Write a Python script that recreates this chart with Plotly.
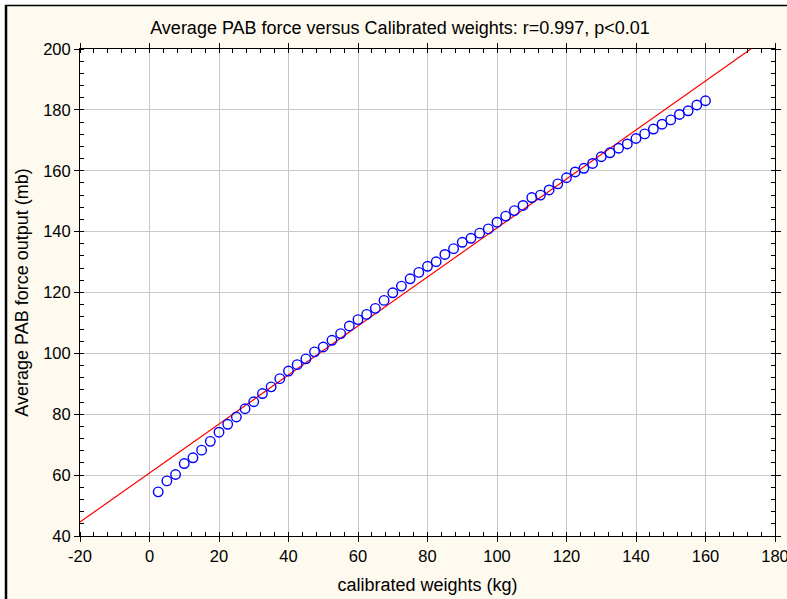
import plotly.graph_objects as go

weights_kg = [2.5, 5, 7.5, 10, 12.5, 15, 17.5, 20, 22.5, 25, 27.5, 30, 32.5, 35, 37.5, 40,
              42.5, 45, 47.5, 50, 52.5, 55, 57.5, 60, 62.5, 65, 67.5, 70, 72.5, 75, 77.5, 80,
              82.5, 85, 87.5, 90, 92.5, 95, 97.5, 100, 102.5, 105, 107.5, 110, 112.5, 115, 117.5, 120,
              122.5, 125, 127.5, 130, 132.5, 135, 137.5, 140, 142.5, 145, 147.5, 150, 152.5, 155, 157.5, 160]
pab_force_mb = [54.5, 58.1, 60.2, 63.8, 65.7, 68.2, 71.1, 74.1, 76.7, 79.1, 81.8, 84.1, 86.8, 89.0, 91.7, 94.2,
                96.3, 98.2, 100.5, 102.1, 104.3, 106.5, 109.0, 111.1, 112.8, 114.8, 117.4, 119.9, 122.1, 124.5, 126.6, 128.6,
                130.1, 132.5, 134.4, 136.5, 137.8, 139.5, 140.9, 143.1, 145.1, 146.9, 148.6, 151.2, 152.0, 153.7, 155.7, 157.7,
                159.6, 160.8, 162.4, 164.6, 165.9, 167.4, 168.8, 170.6, 172.1, 173.7, 175.3, 176.7, 178.5, 179.7, 181.6, 183.0]
fit_intercept = 60.7
fit_slope = 0.805
fit_x = [-20, 180]
fit_y = [fit_intercept + fit_slope * v for v in fit_x]

x_ticks = [-20, 0, 20, 40, 60, 80, 100, 120, 140, 160, 180]
y_ticks = [40, 60, 80, 100, 120, 140, 160, 180, 200]

W, H = 787, 599
L, R, T, B = 80, 12, 49, 63
pw, ph = W - L - R, H - T - B

def px(xp):
    return (xp - L) / pw

def py(yp):
    return (H - B - yp) / ph

CREAM = "#FEFAEF"
FONT = "Liberation Sans, Arial, sans-serif"

fig = go.Figure()
fig.add_trace(go.Scatter(x=fit_x, y=fit_y, mode="lines",
                         line=dict(color="#FF0000", width=1.2), showlegend=False, cliponaxis=True))
fig.add_trace(go.Scatter(x=weights_kg, y=pab_force_mb, mode="markers",
                         marker=dict(symbol="circle-open", size=9.5, color="#0000FF",
                                     line=dict(width=1.4, color="#0000FF")),
                         showlegend=False))

axis_common = dict(
    automargin=False, ticklabeloverflow="allow",
    showline=True, linecolor="black", linewidth=1, mirror="allticks",
    ticks="outside", ticklen=5, tickcolor="black", tickwidth=1,
    showgrid=True, gridcolor="#C8C8C8", gridwidth=1, zeroline=False,
    tickfont=dict(family=FONT, size=16.5, color="black"),
    minor=dict(ticks="inside", ticklen=4, tickcolor="black", dtick=4, showgrid=False),
)

fig.update_xaxes(range=[-20, 180], tickmode="array", tickvals=x_ticks,
                 ticktext=[str(v) for v in x_ticks],
                 title=dict(text="calibrated weights (kg)", font=dict(family=FONT, size=18, color="black"),
                            standoff=14),
                 **axis_common)
fig.update_xaxes(minor=dict(tick0=-20))
fig.update_yaxes(range=[40, 200], tickmode="array", tickvals=y_ticks,
                 ticktext=[str(v) for v in y_ticks],
                 title=dict(text="Average PAB force output (mb)", font=dict(family=FONT, size=18, color="black"),
                            standoff=9),
                 **axis_common)
fig.update_yaxes(minor=dict(tick0=40))

shapes = [
    dict(type="rect", xref="paper", yref="paper", x0=px(-5), x1=px(5), y0=py(-5), y1=py(H + 5),
         fillcolor="white", line=dict(width=0), layer="above"),
    dict(type="rect", xref="paper", yref="paper", x0=px(-5), x1=px(W + 5), y0=py(4.5), y1=py(-5),
         fillcolor="white", line=dict(width=0), layer="above"),
    dict(type="line", xref="paper", yref="paper", x0=px(6), x1=px(6), y0=py(5), y1=py(H + 5),
         line=dict(color="black", width=2.5), layer="above"),
    dict(type="line", xref="paper", yref="paper", x0=px(5), x1=px(W + 5), y0=py(5.5), y1=py(5.5),
         line=dict(color="black", width=1.6), layer="above"),
]

fig.update_layout(
    width=W, height=H,
    margin=dict(l=L, r=R, t=T, b=B),
    paper_bgcolor=CREAM, plot_bgcolor="white",
    title=dict(text="Average PAB force versus Calibrated weights: r=0.997, p<0.01",
               x=(400) / W, xanchor="center", y=1 - 28 / H, yanchor="middle",
               font=dict(family=FONT, size=18, color="black")),
    shapes=shapes,
    font=dict(family=FONT, color="black"),
)

fig.write_html("out.html")
